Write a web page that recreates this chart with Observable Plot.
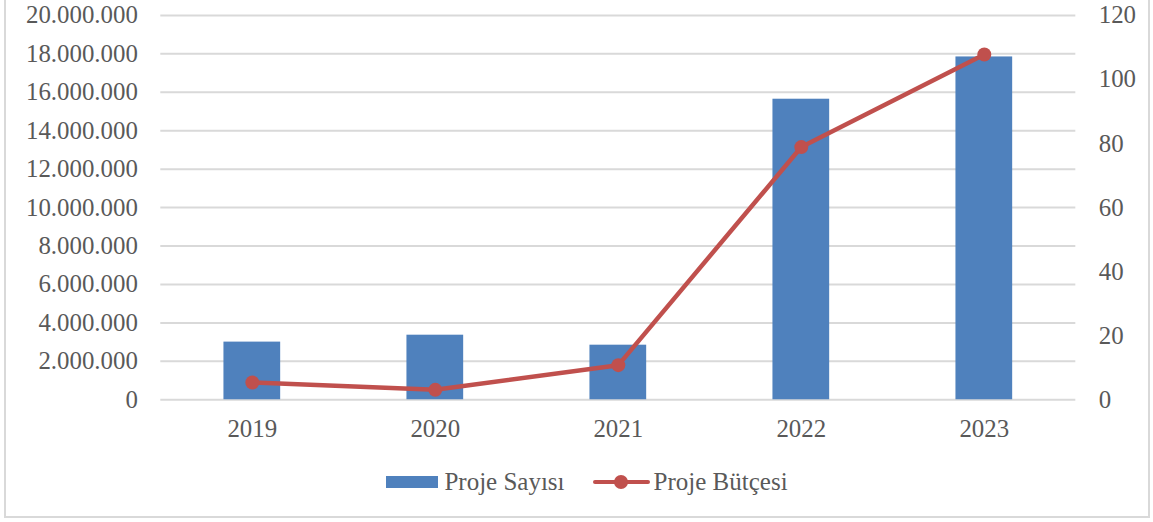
<!DOCTYPE html>
<html>
<head>
<meta charset="utf-8">
<script src="https://cdn.jsdelivr.net/npm/d3@7"></script>
<script src="https://cdn.jsdelivr.net/npm/@observablehq/plot@0.6"></script>
<style>
  html, body { margin: 0; padding: 0; background: #fff; }
  #frame { position: relative; width: 1146px; height: 518px; margin-left: 4px; border: 2px solid #d9d9d9; border-top: none; box-sizing: border-box; }
  #chart { position: absolute; left: -6px; top: 0; }
  #legend { position: absolute; top: 468px; left: 8px; width: 1146px; display: flex; justify-content: center; align-items: center; font-family: "Liberation Serif", serif; font-size: 25px; color: #595959; }
  .item { display: flex; align-items: center; margin: 0 14px; }
  .sw-bar { width: 52px; height: 12px; background: #4f81bd; margin-right: 6px; }
  .sw-line { position: relative; width: 57px; height: 14px; margin-right: 4px; }
  .sw-line::before { content: ""; position: absolute; left: 0; right: 0; top: 5px; height: 4px; background: #c0504d; border-radius: 2px; }
  .sw-line::after { content: ""; position: absolute; left: 21px; top: 0; width: 14px; height: 14px; border-radius: 50%; background: #c0504d; }
</style>
</head>
<body>
<div id="frame">
  <div id="chart"></div>
  <div id="legend">
    <div class="item"><div class="sw-bar"></div><span>Proje Sayısı</span></div>
    <div class="item"><div class="sw-line"></div><span>Proje Bütçesi</span></div>
  </div>
</div>
<script>
const years = ["2019", "2020", "2021", "2022", "2023"];
const projeSayisi = [3000000, 3360000, 2840000, 15640000, 17840000];
const projeButcesi = [5.4, 3.1, 10.8, 78.9, 107.8];
const leftTicks = [0, 2000000, 4000000, 6000000, 8000000, 10000000, 12000000, 14000000, 16000000, 18000000, 20000000];
const rightTicks = [0, 20, 40, 60, 80, 100, 120];

const leftMax = 20000000, rightMax = 120;
const k = leftMax / rightMax;
const fmt = d => d3.format(",")(d).replace(/,/g, ".");

const bars = years.map((y, i) => ({year: y, value: projeSayisi[i]}));
const line = years.map((y, i) => ({year: y, value: projeButcesi[i]}));

const chart = Plot.plot({
  width: 1153,
  height: 460,
  marginLeft: 161,
  marginRight: 73,
  marginTop: 15,
  marginBottom: 59,
  style: {fontFamily: "'Liberation Serif', serif", fontSize: "25px", color: "#595959", background: "transparent"},
  x: {domain: years, paddingInner: 0.69, paddingOuter: 0.345, round: false, label: null},
  y: {domain: [0, leftMax], label: null},
  marks: [
    Plot.gridY(leftTicks, {stroke: "#d9d9d9", strokeOpacity: 1, strokeWidth: 2}),
    Plot.barY(bars, {x: "year", y: "value", fill: "#4f81bd"}),
    Plot.line(line, {x: "year", y: d => d.value * k, stroke: "#c0504d", strokeWidth: 4.5, strokeLinecap: "round", strokeLinejoin: "round"}),
    Plot.dot(line, {x: "year", y: d => d.value * k, r: 7, fill: "#c0504d"}),
    Plot.axisY(leftTicks, {anchor: "left", tickSize: 0, tickPadding: 23, tickFormat: fmt, label: null, fill: "#595959"}),
    Plot.axisY(rightTicks.map(v => v * k), {anchor: "right", tickSize: 0, tickPadding: 23, tickFormat: d => String(Math.round(d / k)), label: null, fill: "#595959"}),
    Plot.axisX({tickSize: 0, tickPadding: 20, label: null, fill: "#595959"})
  ]
});
document.getElementById("chart").appendChild(chart);
</script>
</body>
</html>
